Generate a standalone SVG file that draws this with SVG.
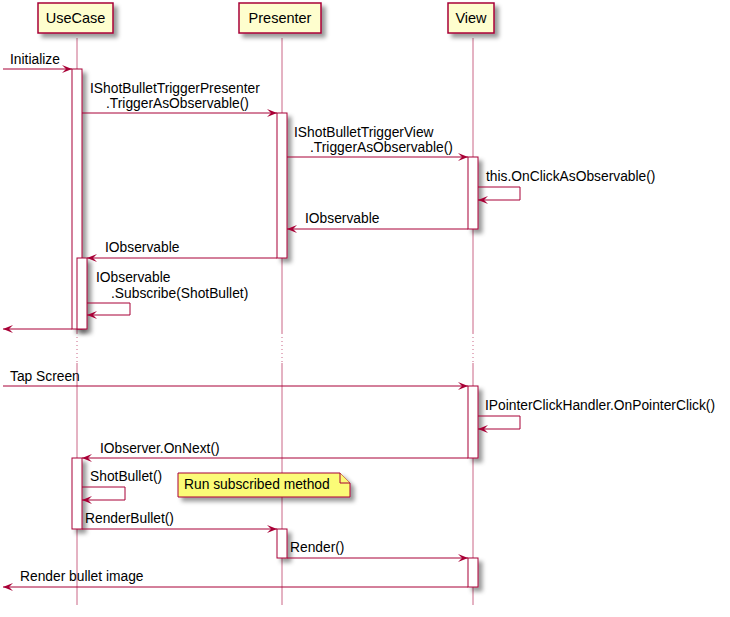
<svg xmlns="http://www.w3.org/2000/svg" width="730" height="617" viewBox="0 0 730 617">
<defs>
<filter id="sh" x="-1" y="-1" width="300%" height="300%">
<feGaussianBlur in="SourceAlpha" stdDeviation="2" result="b"/>
<feColorMatrix in="b" type="matrix" values="0 0 0 0 0  0 0 0 0 0  0 0 0 0 0  0 0 0 0.4 0" result="c"/>
<feOffset in="c" dx="4" dy="4" result="o"/>
<feMerge><feMergeNode in="o"/><feMergeNode in="SourceGraphic"/></feMerge>
</filter>
<marker id="ah" viewBox="0 0 10 8" refX="10" refY="4" markerWidth="10" markerHeight="8" markerUnits="userSpaceOnUse" orient="auto">
<path d="M0,0 L10,4 L0,8 L4,4 Z" fill="#A80036"/>
</marker>
</defs>
<style>
.life{stroke:#A80036;stroke-opacity:0.6;stroke-width:1;fill:none}
.dot{stroke:#A80036;stroke-opacity:0.6;stroke-width:1;stroke-dasharray:1,3;fill:none}
.part{fill:#FEFECE;stroke:#A80036;stroke-width:1.5}
.act{fill:#FFFFFF;stroke:#A80036;stroke-width:1}
.msg{stroke:#A80036;stroke-width:1;fill:none;marker-end:url(#ah)}
text{font-family:"Liberation Sans",Arial,Helvetica,sans-serif;fill:#000000}
.pt{font-size:14.5px;text-anchor:middle}
.lb{font-size:13.8px}
.note{fill:#FBFB77;stroke:#A80036;stroke-width:1}
</style>

<g id="lifelines">
<path class="life" d="M77,38 V333 M77,363 V605"/>
<path class="dot" d="M77,333 V363"/>
<path class="life" d="M282,38 V333 M282,363 V605"/>
<path class="dot" d="M282,333 V363"/>
<path class="life" d="M473,38 V333 M473,363 V605"/>
<path class="dot" d="M473,333 V363"/>
</g>

<g id="UseCase">
<rect class="part" x="38" y="3" width="75" height="30" filter="url(#sh)"/>
<text class="pt" x="75.5" y="23">UseCase</text>
</g>
<g id="Presenter">
<rect class="part" x="239" y="3" width="82" height="30" filter="url(#sh)"/>
<text class="pt" x="280" y="23">Presenter</text>
</g>
<g id="View">
<rect class="part" x="448" y="3" width="46" height="30" filter="url(#sh)"/>
<text class="pt" x="471" y="23">View</text>
</g>

<g id="activations">
<rect class="act" x="72" y="69" width="10" height="260" filter="url(#sh)"/>
<rect class="act" x="77" y="258" width="10" height="71" filter="url(#sh)"/>
<rect class="act" x="277" y="113" width="10" height="145" filter="url(#sh)"/>
<rect class="act" x="468" y="157" width="10" height="72" filter="url(#sh)"/>
<rect class="act" x="468" y="386" width="10" height="72" filter="url(#sh)"/>
<rect class="act" x="72" y="458" width="10" height="71" filter="url(#sh)"/>
<rect class="act" x="277" y="529" width="10" height="29" filter="url(#sh)"/>
<rect class="act" x="468" y="558" width="10" height="29" filter="url(#sh)"/>
</g>

<g id="note">
<path class="note" d="M178,473 L340,473 L350,483 L350,497 L178,497 Z" filter="url(#sh)"/>
<path class="note" d="M340,473 L340,483 L350,483"/>
<text class="lb" x="184" y="489">Run subscribed method</text>
</g>

<g id="connectors">
<path class="msg" d="M3,69 H72"/>
<text class="lb" x="10" y="64">Initialize</text>

<path class="msg" d="M82,113 H277"/>
<text class="lb" x="90" y="93">IShotBulletTriggerPresenter</text>
<text class="lb" x="106" y="108">.TriggerAsObservable()</text>

<path class="msg" d="M287,157 H468"/>
<text class="lb" x="294" y="137">IShotBulletTriggerView</text>
<text class="lb" x="310" y="152">.TriggerAsObservable()</text>

<path class="msg" d="M478,187 H520 V200 H478"/>
<text class="lb" x="486" y="181">this.OnClickAsObservable()</text>

<path class="msg" d="M468,229 H287"/>
<text class="lb" x="305" y="223">IObservable</text>

<path class="msg" d="M277,258 H87"/>
<text class="lb" x="105" y="252">IObservable</text>

<path class="msg" d="M87,303 H130 V315 H87"/>
<text class="lb" x="96" y="282">IObservable</text>
<text class="lb" x="111" y="298">.Subscribe(ShotBullet)</text>

<path class="msg" d="M72,329 H3"/>

<path class="msg" d="M3,386 H468"/>
<text class="lb" x="10" y="381">Tap Screen</text>

<path class="msg" d="M478,416 H520 V429 H478"/>
<text class="lb" x="485" y="410">IPointerClickHandler.OnPointerClick()</text>

<path class="msg" d="M468,458 H82"/>
<text class="lb" x="100" y="453">IObserver.OnNext()</text>

<path class="msg" d="M82,487 H125 V500 H82"/>
<text class="lb" x="90" y="481">ShotBullet()</text>

<path class="msg" d="M82,529 H277"/>
<text class="lb" x="85" y="523">RenderBullet()</text>

<path class="msg" d="M287,558 H468"/>
<text class="lb" x="290" y="552">Render()</text>

<path class="msg" d="M468,587 H3"/>
<text class="lb" x="20" y="581">Render bullet image</text>
</g>
</svg>
